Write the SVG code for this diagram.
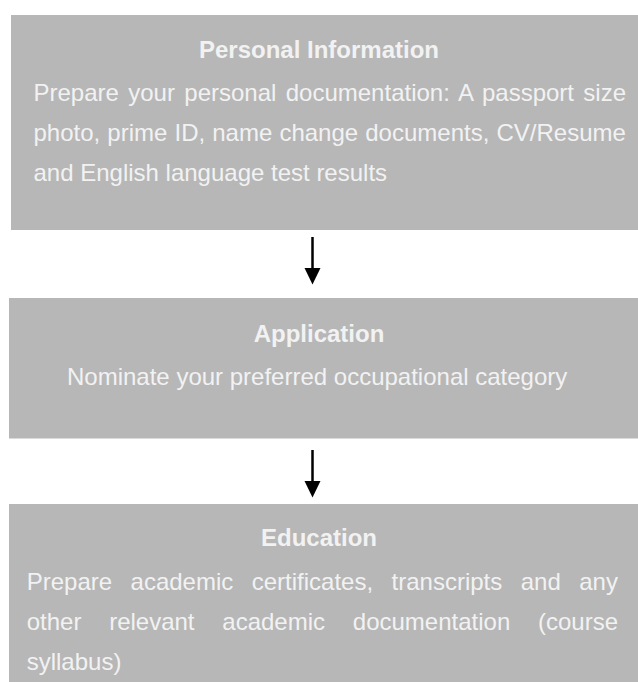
<svg xmlns="http://www.w3.org/2000/svg" width="638" height="682" viewBox="0 0 638 682">
  <style>
    .box { fill: #b7b7b7; stroke: none; }
    .title { font-family: "Liberation Sans", Arial, sans-serif; font-size: 24px; font-weight: bold; fill: #f2f2f2; text-anchor: middle; }
    .body { font-family: "Liberation Sans", Arial, sans-serif; font-size: 24px; fill: #f2f2f2; }
    .conn { stroke: #000000; stroke-width: 2.5; fill: none; }
    .head { fill: #000000; stroke: none; }
  </style>
  <rect x="0" y="0" width="638" height="682" fill="#ffffff"/>

  <g id="personal-information">
    <rect class="box" x="11" y="15" width="627" height="215"/>
    <text class="title" x="319" y="58">Personal Information</text>
    <text class="body" x="33.5" y="101" word-spacing="2.7">Prepare your personal documentation: A passport size</text>
    <text class="body" x="33.5" y="141" word-spacing="0.45">photo, prime ID, name change documents, CV/Resume</text>
    <text class="body" x="33.5" y="181">and English language test results</text>
  </g>

  <g id="application">
    <rect class="box" x="9" y="298" width="629" height="140.5"/>
    <text class="title" x="319" y="342">Application</text>
    <text class="body" x="67" y="385">Nominate your preferred occupational category</text>
  </g>

  <g id="education">
    <rect class="box" x="9" y="504" width="629" height="178"/>
    <text class="title" x="319" y="546">Education</text>
    <text class="body" x="26.7" y="589.5" word-spacing="11.8">Prepare academic certificates, transcripts and any</text>
    <text class="body" x="26.7" y="629.5" word-spacing="21.1">other relevant academic documentation (course</text>
    <text class="body" x="26.7" y="669.5">syllabus)</text>
  </g>

  <g id="connectors">
    <line class="conn" x1="312.5" y1="237" x2="312.5" y2="270"/>
    <polygon class="head" points="304.5,268 320.5,268 312.5,284.5"/>
    <line class="conn" x1="312.5" y1="450" x2="312.5" y2="483"/>
    <polygon class="head" points="304.5,481 320.5,481 312.5,497.5"/>
  </g>
</svg>
